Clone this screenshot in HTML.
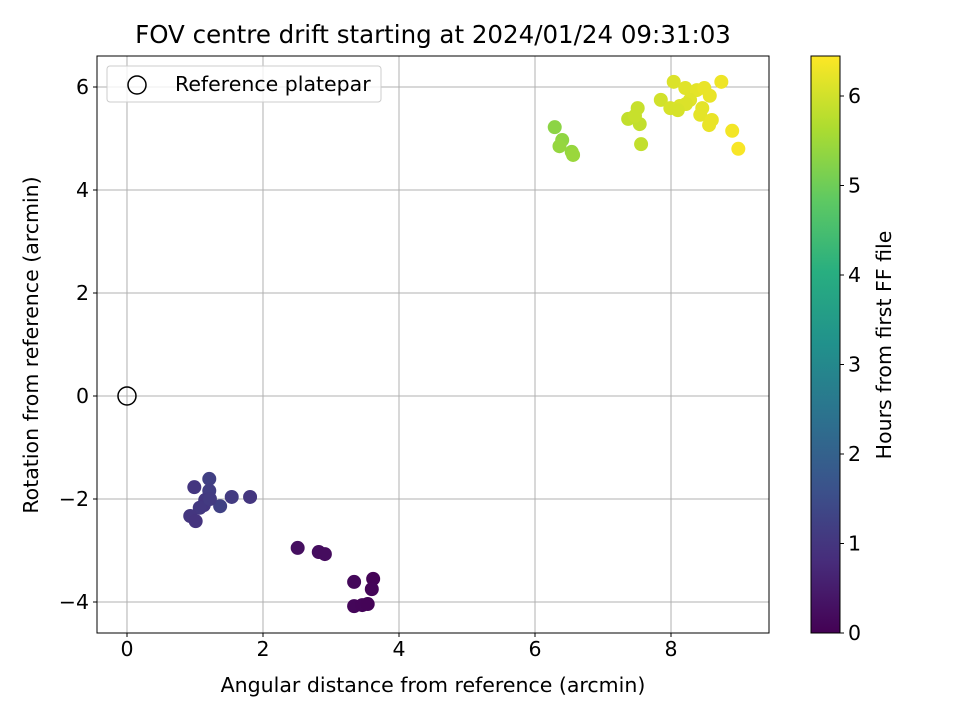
<!DOCTYPE html>
<html><head><meta charset="utf-8"><style>
body{margin:0;background:#fff}
svg text{font-family:"DejaVu Sans","Liberation Sans",sans-serif;fill:#000}
</style></head><body>
<svg id="chart" width="960" height="720" xmlns="http://www.w3.org/2000/svg">
<defs>
<linearGradient id="vir" x1="0" y1="1" x2="0" y2="0">
<stop offset="0" stop-color="#440154"/><stop offset="0.125" stop-color="#472d7b"/><stop offset="0.25" stop-color="#3b528b"/><stop offset="0.375" stop-color="#2c728e"/><stop offset="0.5" stop-color="#21918c"/><stop offset="0.625" stop-color="#28ae80"/><stop offset="0.75" stop-color="#5ec962"/><stop offset="0.875" stop-color="#addc30"/><stop offset="1" stop-color="#fde725"/>
</linearGradient>
</defs>
<text x="433" y="43" style="font-size:24.5px" text-anchor="middle">FOV centre drift starting at 2024/01/24 09:31:03</text>
<g id="grid"></g>
<g id="points"></g>
<rect x="97" y="56" width="672" height="577" fill="none" stroke="#000" stroke-width="1"/>
<g id="ticks"></g>
<text x="433" y="692" style="font-size:20.5px" text-anchor="middle">Angular distance from reference (arcmin)</text>
<text transform="translate(38,345) rotate(-90)" style="font-size:20.5px" text-anchor="middle">Rotation from reference (arcmin)</text>
<g>
<rect x="107" y="66" width="274" height="36" rx="3" fill="#fff" fill-opacity="0.8" stroke="#ccc"/>
<circle cx="137" cy="85" r="9" fill="none" stroke="#000" stroke-width="1.5"/>
<text x="175" y="91" style="font-size:20.5px">Reference platepar</text>
</g>
<rect x="811" y="56" width="29" height="577" fill="url(#vir)" stroke="#000" stroke-width="1"/>
<g id="cbticks"></g>
<text transform="translate(891,345) rotate(-90)" style="font-size:20.5px" text-anchor="middle">Hours from first FF file</text>
</svg>
<script>
const xs=[2.51,2.82,2.91,3.34,3.62,3.60,3.34,3.46,3.54, 0.99,1.21,1.21,1.54,1.81,1.37,1.15,1.13,1.07,0.93,1.01,1.22, 6.29,6.40,6.36,6.54,6.56, 7.37,7.51,7.54,7.56,7.47, 7.85,8.04,7.99,8.21,8.38,8.49,8.74,8.57,8.46,8.43,8.56,8.60,8.90,8.99,8.13,8.28,8.22,8.10];
const ys=[-2.95,-3.03,-3.07,-3.61,-3.55,-3.75,-4.08,-4.06,-4.04, -1.77,-1.61,-1.84,-1.96,-1.96,-2.14,-2.02,-2.12,-2.17,-2.33,-2.43,-2.0, 5.22,4.97,4.85,4.74,4.68, 5.38,5.59,5.28,4.89,5.44, 5.75,6.10,5.59,5.98,5.94,5.98,6.10,5.83,5.59,5.46,5.26,5.36,5.15,4.80,5.63,5.75,5.67,5.55];
const hours=[0.25,0.22,0.20,0.12,0.05,0.08,0.10,0.08,0.06, 1.0,1.2,1.15,1.1,1.0,1.25,1.05,1.0,1.05,1.0,0.95,1.1, 5.3,5.35,5.4,5.4,5.45, 5.85,5.9,5.85,5.85,5.9, 6.0,6.1,6.05,6.15,6.2,6.25,6.3,6.25,6.2,6.2,6.25,6.25,6.35,6.4,6.1,6.15,6.1,6.05];
const xTicks=[0,2,4,6,8];
const yTicks=[-4,-2,0,2,4,6];
const cbTicks=[0,1,2,3,4,5,6];
const X0=97,X1=769,Y0=56,Y1=633,xmin=-0.441,xmax=9.441,ymin=-4.602,ymax=6.602,hmax=6.447;
const sx=v=>X0+(v-xmin)/(xmax-xmin)*(X1-X0);
const sy=v=>Y1-(v-ymin)/(ymax-ymin)*(Y1-Y0);
const sh=v=>633-v/hmax*577;
const vir=["#440154","#472d7b","#3b528b","#2c728e","#21918c","#28ae80","#5ec962","#addc30","#fde725"];
function hex(c){return [1,3,5].map(i=>parseInt(c.substr(i,2),16));}
function cmap(t){t=Math.max(0,Math.min(1,t))*8;const i=Math.min(7,Math.floor(t)),f=t-i;const a=hex(vir[i]),b=hex(vir[i+1]);return "rgb("+a.map((v,k)=>Math.round(v+(b[k]-v)*f)).join(",")+")";}
const NS="http://www.w3.org/2000/svg";
function mk(tag,attrs,parent){const e=document.createElementNS(NS,tag);for(const k in attrs)e.setAttribute(k,attrs[k]);parent.appendChild(e);return e;}
const grid=document.getElementById('grid'),ticks=document.getElementById('ticks'),pts=document.getElementById('points'),cbt=document.getElementById('cbticks');
xTicks.forEach(t=>{const x=sx(t);
const g=mk('line',{x1:x,x2:x,y1:Y0,y2:Y1,stroke:'#b0b0b0','stroke-width':1},grid);


const tk=mk('line',{x1:x,x2:x,y1:Y1,y2:Y1+4,stroke:'#000'},ticks);


const tx=mk('text',{x:x,y:Y1+23,style:'font-size:20.5px','text-anchor':'middle'},ticks);tx.textContent=t;

});
yTicks.forEach(t=>{const y=sy(t);
const g=mk('line',{x1:X0,x2:X1,y1:y,y2:y,stroke:'#b0b0b0','stroke-width':1},grid);


const tk=mk('line',{x1:X0-4,x2:X0,y1:y,y2:y,stroke:'#000'},ticks);


const tx=mk('text',{x:X0-8,y:y+7,style:'font-size:20.5px','text-anchor':'end'},ticks);tx.textContent=(t<0?'\u2212'+(-t):t);

});
cbTicks.forEach(t=>{const y=sh(t);
const tk=mk('line',{x1:840,x2:844,y1:y,y2:y,stroke:'#000'},cbt);


const tx=mk('text',{x:848,y:y+7,style:'font-size:20.5px'},cbt);tx.textContent=t;

});
const ref=mk('circle',{cx:sx(0),cy:sy(0),r:9,fill:'none',stroke:'#000','stroke-width':1.5},pts);


xs.forEach((v,i)=>{const c=mk('circle',{cx:sx(v),cy:sy(ys[i]),r:7,fill:cmap(hours[i]/hmax)},pts);

});
</script>
</body></html>
